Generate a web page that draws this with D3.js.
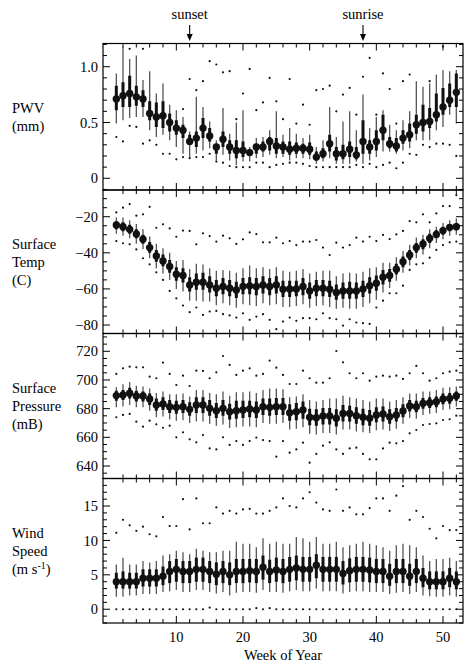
<!DOCTYPE html>
<html>
<head>
<meta charset="utf-8">
<script src="https://cdn.jsdelivr.net/npm/d3@7"></script>
<style>
  body { margin: 0; background: #fff; }
  svg { display: block; }
  svg text { font-family: "Liberation Serif", "DejaVu Serif", "Times New Roman", serif; }
</style>
</head>
<body>
<svg id="chart" width="464" height="664"></svg>
<script>
// Week numbers
const weeks = d3.range(1, 53);

// PWV (mm): thin range, thick box, median, extremes
const pwvMed = [0.71,0.74,0.76,0.73,0.71,0.58,0.55,0.56,0.50,0.45, 0.43,0.33,0.36,0.45,0.38,0.28,0.35,0.28,0.25,0.25, 0.23,0.28,0.28,0.33,0.29,0.28,0.26,0.27,0.27,0.26, 0.19,0.22,0.31,0.22,0.22,0.26,0.21,0.33,0.28,0.33, 0.43,0.31,0.29,0.36,0.39,0.48,0.50,0.51,0.57,0.64, 0.70,0.77];
const pwvQ3 = [0.83,0.86,0.92,0.83,0.79,0.69,0.68,0.69,0.58,0.52, 0.48,0.39,0.42,0.54,0.45,0.31,0.42,0.34,0.34,0.33, 0.26,0.31,0.33,0.37,0.36,0.33,0.33,0.32,0.31,0.32, 0.24,0.27,0.39,0.28,0.30,0.33,0.28,0.52,0.34,0.43, 0.57,0.37,0.36,0.43,0.49,0.57,0.66,0.63,0.76,0.81, 0.85,0.94];
const pwvQ1 = [0.61,0.64,0.64,0.65,0.64,0.52,0.46,0.45,0.42,0.39, 0.36,0.30,0.28,0.36,0.33,0.22,0.28,0.22,0.18,0.19, 0.20,0.22,0.24,0.25,0.22,0.22,0.21,0.22,0.22,0.21, 0.16,0.18,0.24,0.16,0.17,0.19,0.17,0.22,0.22,0.25, 0.34,0.27,0.24,0.31,0.33,0.40,0.42,0.45,0.51,0.57, 0.64,0.64];
const pwvHi = [0.94,1.18,1.07,1.10,0.88,0.96,0.76,0.85,0.66,0.61, 0.55,0.42,0.73,0.64,0.51,0.34,0.63,0.40,0.50,0.61, 0.28,0.36,0.37,0.43,0.60,0.39,0.45,0.40,0.36,0.39, 0.28,0.34,0.64,0.37,0.51,0.60,0.43,0.75,0.45,0.55, 0.61,0.48,0.43,0.52,0.60,0.87,0.82,0.85,0.93,0.97, 0.96,0.97];
const pwvLo = [0.49,0.52,0.54,0.55,0.55,0.43,0.37,0.39,0.34,0.28, 0.22,0.19,0.22,0.25,0.27,0.16,0.21,0.16,0.12,0.15, 0.15,0.18,0.19,0.21,0.18,0.19,0.16,0.18,0.18,0.17, 0.13,0.15,0.18,0.13,0.13,0.13,0.15,0.13,0.16,0.19, 0.24,0.24,0.22,0.25,0.27,0.34,0.34,0.34,0.43,0.46, 0.57,0.49];
const pwvMax = [1.30,1.30,1.16,1.30,1.16,1.30,1.30,1.30,1.30,1.30, 0.62,0.89,0.79,0.87,1.05,1.02,0.95,0.96,0.53,0.76, 0.98,0.61,0.68,0.90,0.69,0.53,0.89,0.49,0.66,0.48, 0.79,0.80,0.83,0.60,0.75,0.81,0.57,0.91,1.08,0.57, 0.94,0.80,0.49,0.87,0.93,1.30,1.30,0.87,1.30,1.18, 1.30,1.30];
const pwvMin = [0.37,0.33,0.47,0.46,0.31,0.34,0.30,0.22,0.22,0.17, 0.19,0.18,0.19,0.19,0.22,0.15,0.14,0.11,0.10,0.10, 0.10,0.14,0.14,0.10,0.12,0.13,0.14,0.14,0.13,0.11, 0.10,0.10,0.10,0.10,0.10,0.10,0.12,0.10,0.13,0.10, 0.12,0.14,0.09,0.14,0.22,0.21,0.30,0.28,0.31,0.31, 0.30,0.20];

// Surface temperature (C)
const tMed = [-24.6,-25.5,-27.0,-29.6,-32.5,-37.1,-41.8,-44.5,-47.6,-51.9, -52.6,-57.8,-56.3,-56.3,-57.8,-59.6,-58.7,-59.6,-60.6,-58.7, -58.3,-58.7,-57.8,-58.7,-57.8,-60.2,-60.0,-60.0,-58.7,-61.1, -59.6,-59.6,-60.2,-62.0,-61.1,-61.1,-61.1,-60.0,-58.2,-56.9, -53.5,-52.6,-49.1,-44.9,-41.2,-37.1,-35.1,-32.0,-29.8,-27.7, -25.9,-25.5];
const tQ3 = [-22.5,-23.0,-24.5,-27.0,-30.0,-34.0,-38.5,-41.0,-44.0,-48.0, -48.5,-53.5,-51.5,-51.0,-53.0,-55.0,-54.0,-55.0,-56.0,-54.0, -53.5,-54.0,-53.0,-54.0,-53.0,-55.5,-55.5,-55.5,-54.0,-56.5, -55.0,-55.0,-55.5,-57.5,-56.5,-56.0,-56.5,-55.5,-53.5,-52.5, -49.5,-49.0,-46.0,-42.0,-38.5,-34.5,-32.5,-29.5,-27.5,-25.5, -24.0,-23.5];
const tQ1 = [-27.0,-28.0,-29.5,-32.0,-35.0,-40.0,-45.0,-47.5,-51.0,-55.5, -56.5,-61.5,-60.5,-60.5,-62.0,-64.0,-63.0,-64.0,-65.0,-63.0, -63.0,-63.5,-62.5,-63.5,-62.5,-64.5,-64.5,-64.0,-63.5,-65.5, -64.0,-64.0,-64.5,-66.0,-65.5,-65.5,-65.5,-64.5,-62.5,-61.0, -57.5,-56.0,-52.0,-48.0,-44.0,-40.0,-38.0,-34.5,-32.0,-30.0, -28.0,-27.5];
const tHi = [-20.5,-20.5,-22.0,-24.0,-27.0,-31.0,-35.0,-37.5,-40.0,-44.5, -44.0,-49.0,-46.0,-46.5,-48.5,-50.0,-49.5,-50.0,-51.0,-48.5, -47.0,-48.5,-48.0,-49.0,-48.0,-50.0,-50.5,-50.0,-49.0,-51.5, -50.5,-50.0,-50.0,-53.0,-51.5,-51.0,-51.5,-50.5,-48.5,-48.0, -45.5,-45.5,-42.5,-39.0,-35.5,-31.5,-30.0,-27.0,-25.5,-23.5, -22.0,-21.0];
const tLo = [-29.5,-30.5,-32.0,-35.0,-38.0,-43.0,-48.5,-51.5,-55.0,-60.0, -61.5,-66.5,-66.5,-67.0,-67.0,-69.0,-68.0,-69.0,-70.5,-68.5, -69.0,-69.5,-68.0,-69.0,-68.5,-70.0,-70.0,-69.5,-68.5,-70.5, -69.5,-69.0,-70.0,-71.0,-70.5,-71.0,-71.0,-70.0,-68.0,-66.0, -62.0,-59.5,-55.5,-51.0,-47.0,-43.0,-41.0,-37.5,-34.5,-32.5, -30.5,-30.0];
const tMax = [-17.6,-15.0,-13.0,-19.4,-18.7,-14.5,-26.1,-24.2,-26.5,-31.1, -27.7,-27.9,-35.3,-29.2,-30.7,-33.8,-30.5,-32.0,-35.1,-32.5, -28.7,-29.6,-34.2,-34.2,-31.6,-34.7,-33.5,-35.7,-33.8,-33.8, -32.9,-37.1,-41.2,-34.4,-37.1,-35.7,-31.6,-33.8,-31.1,-33.5, -30.1,-32.4,-29.8,-27.9,-22.4,-23.1,-18.7,-23.1,-18.2,-14.1, -14.1,-8.0];
const tMin = [-33.5,-34.7,-35.3,-38.1,-43.0,-46.4,-50.8,-55.0,-61.1,-65.2, -69.2,-72.9,-70.3,-74.4,-72.5,-72.2,-74.0,-74.7,-75.9,-73.5, -77.1,-75.3,-74.0,-77.1,-82.3,-78.1,-75.9,-77.7,-76.2,-76.2, -76.8,-73.5,-76.2,-76.8,-80.3,-76.8,-78.6,-79.0,-79.4,-70.3, -66.5,-62.4,-62.4,-58.2,-49.5,-46.4,-45.8,-42.7,-38.4,-35.7, -34.2,-33.8];

// Surface pressure (mB)
const pMed = [689.1,689.5,690.7,688.8,688.8,686.7,682.6,683.3,681.4,680.9, 681.4,679.5,682.6,682.6,680.2,678.6,680.2,677.9,678.6,679.1, 679.8,679.1,681.4,680.9,681.4,681.4,677.2,677.9,679.1,674.0, 673.7,674.9,674.9,673.3,676.7,676.7,675.1,674.0,673.3,675.6, 676.3,674.4,675.6,678.4,681.9,681.4,683.7,684.2,684.9,686.7, 687.2,688.8];
const pQ3 = [692.5,693.0,694.5,692.5,692.0,690.5,687.0,688.0,686.0,685.5, 686.0,684.5,688.0,688.0,686.0,684.0,686.0,683.5,685.5,685.5, 685.5,685.0,687.0,687.0,687.5,687.5,683.0,684.0,685.0,680.0, 679.5,680.5,680.5,679.5,682.5,682.0,681.0,680.0,679.0,681.0, 681.5,679.5,680.5,683.0,686.0,685.5,687.5,688.0,688.5,690.5, 691.0,692.0];
const pQ1 = [685.5,686.0,687.0,685.0,685.0,682.5,678.5,679.0,677.0,676.5, 677.0,675.0,677.0,677.0,675.0,673.5,675.0,672.5,673.0,673.5, 674.0,673.5,675.5,675.0,675.5,675.5,671.5,672.0,673.0,668.5, 668.0,669.0,669.0,667.5,671.0,671.0,669.5,668.5,668.0,670.5, 671.0,669.5,671.0,674.0,678.0,677.5,680.0,680.5,681.0,683.0, 683.5,685.5];
const pHi = [695.0,697.0,698.5,696.0,695.5,694.0,691.0,692.0,690.0,690.0, 690.5,688.5,693.0,693.0,691.0,690.0,692.0,689.0,691.5,691.5, 692.0,691.0,693.0,694.0,694.0,693.5,688.0,688.5,690.0,686.0, 685.0,686.0,687.0,687.0,689.0,688.0,687.0,686.0,685.0,687.0, 687.0,685.0,686.0,688.0,690.5,690.5,692.0,692.0,693.0,694.5, 695.0,695.5];
const pLo = [681.0,681.5,682.5,681.0,681.0,678.5,674.0,674.5,672.5,671.5, 672.0,670.0,671.0,671.0,669.5,668.0,669.0,666.5,667.0,667.5, 667.5,667.0,670.0,669.5,669.5,670.0,665.5,666.0,667.0,662.5, 662.0,663.0,663.0,662.0,665.5,665.5,664.0,663.5,663.0,665.0, 665.5,664.5,666.0,669.5,673.5,673.0,675.5,676.5,677.0,679.0, 679.5,681.5];
const pMax = [704.2,708.1,709.3,708.8,708.8,702.3,701.2,712.1,704.2,696.5, 703.0,695.8,706.5,706.3,701.2,705.3,716.7,710.5,703.5,706.5, 708.1,703.0,704.2,713.5,708.6,703.5,697.2,697.2,706.5,701.2, 698.1,698.1,701.2,720.2,712.3,704.7,701.2,704.7,699.5,702.3, 703.0,702.3,703.0,700.7,704.7,709.8,704.7,699.5,701.2,704.7, 705.8,706.5];
const pMin = [674.0,675.6,676.3,670.9,667.4,671.6,669.1,666.7,668.1,660.0, 663.5,658.6,656.5,661.6,652.3,651.6,660.0,654.7,657.4,654.7, 657.4,659.8,658.1,657.4,646.5,657.4,649.3,651.6,656.3,642.3, 648.4,654.2,656.5,651.6,648.4,652.3,652.8,648.4,644.7,644.7, 652.3,656.3,655.8,657.4,662.8,665.1,668.6,669.3,669.8,672.1, 672.6,675.1];

// Wind speed (m/s)
const wMed = [4.0,4.0,4.0,4.0,4.5,4.5,4.5,4.8,5.5,5.8, 5.5,5.5,5.8,5.8,5.5,5.1,5.5,5.0,5.5,5.5, 5.6,5.5,6.1,5.5,5.7,5.5,5.8,6.0,5.8,5.8, 6.4,5.8,5.8,5.8,5.2,5.6,5.8,5.8,5.7,5.5, 5.5,4.8,5.5,5.5,4.8,5.5,4.5,4.0,4.0,4.0, 4.5,4.0];
const wQ3 = [5.3,5.5,5.3,5.3,5.8,5.8,5.8,6.2,7.0,7.3, 7.0,7.0,7.5,7.5,7.0,6.8,7.0,6.8,7.3,7.3, 7.3,7.3,7.8,7.2,7.5,7.3,7.6,7.8,7.6,7.6, 8.0,7.6,7.6,7.6,7.0,7.4,7.6,7.6,7.5,7.3, 7.3,6.6,7.3,7.3,6.6,7.3,6.0,5.5,5.5,5.5, 6.0,5.5];
const wQ1 = [3.0,3.0,3.0,3.0,3.3,3.3,3.3,3.5,3.8,4.0, 3.8,3.8,4.0,4.0,3.8,3.5,3.8,3.5,3.8,3.8, 3.9,3.8,4.3,3.8,4.0,3.8,4.0,4.2,4.0,4.0, 4.5,4.0,4.0,4.0,3.6,3.9,4.0,4.0,3.9,3.8, 3.8,3.4,3.8,3.8,3.4,3.8,3.2,2.9,2.9,2.9, 3.2,2.9];
const wHi = [6.5,7.5,6.5,6.5,7.0,6.8,7.0,7.8,8.0,8.5, 8.3,8.0,8.8,8.5,8.3,8.3,8.5,8.5,9.8,9.5, 9.5,9.0,10.3,9.5,9.8,9.5,9.5,10.5,10.3,9.8, 10.5,9.5,9.5,9.8,9.0,9.3,9.5,9.8,9.5,9.3, 9.0,8.5,9.3,9.5,9.3,9.0,7.8,7.0,7.3,7.3, 7.5,7.0];
const wLo = [1.8,1.8,2.0,2.0,2.2,2.2,2.2,2.5,2.6,2.8, 2.5,2.5,2.8,2.8,2.5,2.3,2.5,2.0,2.4,2.5, 2.5,2.4,2.8,2.5,2.5,2.4,2.6,2.8,2.6,2.6, 3.0,2.6,2.6,2.6,2.3,2.5,2.6,2.6,2.5,2.5, 2.5,2.2,2.4,2.5,2.2,2.5,2.0,1.9,1.8,1.8, 2.0,1.8];
const wMax = [11.1,13.0,12.2,11.4,12.0,10.9,10.6,13.4,12.1,12.1, 16.0,11.6,16.1,12.5,12.5,14.8,13.9,14.3,13.9,14.5, 14.6,13.9,13.9,14.3,14.8,16.1,15.0,14.8,16.1,17.0, 15.5,14.5,14.3,17.4,14.3,14.8,13.8,13.8,14.7,16.1, 16.1,14.3,16.5,17.9,13.0,14.3,13.4,11.7,10.3,12.1, 11.5,11.5];
const wMin = [0,0,0,0,0,0,0,0,0,0, 0,0,0,0,0.24,0,0,0,0,0, 0,0.15,0,0.15,0,0,0,0,0,0, 0,0,0,0,0,0,0,0,0,0, 0,0,0,0,0,0,0,0,0,0, 0,0];

// Axis tick labels
const xTickLabels = [10, 20, 30, 40, 50];
const events = [{ name: "sunset", week: 12 }, { name: "sunrise", week: 38 }];

const minus = s => String(s).replace("-", "\u2212");
const FONT = "'Liberation Serif', 'DejaVu Serif', 'Times New Roman', serif";

const panels = [
  { label: ["PWV", "(mm)"], domain: [-0.105, 1.208], major: [0, 0.5, 1.0], minor: 0.1,
    fmt: d => d === 0 ? "0" : d.toFixed(1),
    med: pwvMed, q1: pwvQ1, q3: pwvQ3, lo: pwvLo, hi: pwvHi, min: pwvMin, max: pwvMax },
  { label: ["Surface", "Temp", "(C)"], domain: [-84.7, -5.2], major: [-80, -60, -40, -20], minor: 5,
    fmt: d => minus(d),
    med: tMed, q1: tQ1, q3: tQ3, lo: tLo, hi: tHi, min: tMin, max: tMax },
  { label: ["Surface", "Pressure", "(mB)"], domain: [631.3, 732.4], major: [640, 660, 680, 700, 720], minor: 5,
    fmt: d => String(d),
    med: pMed, q1: pQ1, q3: pQ3, lo: pLo, hi: pHi, min: pMin, max: pMax },
  { label: ["Wind", "Speed", "(m s-1)"], domain: [-2.0, 19.0], major: [0, 5, 10, 15], minor: 1,
    fmt: d => String(d),
    med: wMed, q1: wQ1, q3: wQ3, lo: wLo, hi: wHi, min: wMin, max: wMax }
];

const svg = d3.select("#chart").attr("font-family", FONT);
const left = 103, right = 463;
const bounds = [43.5, 190, 333.5, 478.5, 623];

const x = d3.scaleLinear().domain([-1, 53]).range([left, right]);

panels.forEach((p, i) => {
  const top = bounds[i], bottom = bounds[i + 1];
  const y = d3.scaleLinear().domain(p.domain).range([bottom, top]);
  const g = svg.append("g");

  g.append("clipPath").attr("id", "clip" + i)
    .append("rect").attr("x", left).attr("y", top)
    .attr("width", right - left).attr("height", bottom - top);

  const marks = g.append("g").attr("clip-path", "url(#clip" + i + ")");
  const rows = weeks.map((w, k) => ({ w, med: p.med[k], q1: p.q1[k], q3: p.q3[k],
    lo: p.lo[k], hi: p.hi[k], min: p.min[k], max: p.max[k] }));

  // thin whiskers
  marks.selectAll(".thin").data(rows).enter().append("line")
    .attr("x1", d => x(d.w)).attr("x2", d => x(d.w))
    .attr("y1", d => y(d.lo)).attr("y2", d => y(d.hi))
    .attr("stroke", "#555").attr("stroke-width", 1.3);

  // thick interquartile bars
  marks.selectAll(".thick").data(rows).enter().append("line")
    .attr("x1", d => x(d.w)).attr("x2", d => x(d.w))
    .attr("y1", d => y(d.q1)).attr("y2", d => y(d.q3))
    .attr("stroke", "#111").attr("stroke-width", 3);

  // medians
  marks.selectAll(".med").data(rows).enter().append("circle")
    .attr("cx", d => x(d.w)).attr("cy", d => y(d.med)).attr("r", 3.7)
    .attr("fill", "#111");

  // extremes
  ["min", "max"].forEach(k => {
    marks.selectAll(".ext-" + k).data(rows).enter().append("circle")
      .attr("cx", d => x(d.w)).attr("cy", d => y(d[k])).attr("r", 1.1)
      .attr("fill", "#111");
  });

  // frame
  g.append("rect").attr("x", left).attr("y", top)
    .attr("width", right - left).attr("height", bottom - top)
    .attr("fill", "none").attr("stroke", "#000").attr("stroke-width", 1.2);

  // x ticks, inward on top and bottom
  const xMinor = d3.range(0, 53, 2).filter(w => w % 10 !== 0);
  const xt = g.append("g").attr("stroke", "#000").attr("stroke-width", 1);
  xMinor.forEach(w => {
    xt.append("line").attr("x1", x(w)).attr("x2", x(w)).attr("y1", top).attr("y2", top + 4);
    xt.append("line").attr("x1", x(w)).attr("x2", x(w)).attr("y1", bottom).attr("y2", bottom - 4);
  });
  xTickLabels.forEach(w => {
    xt.append("line").attr("x1", x(w)).attr("x2", x(w)).attr("y1", top).attr("y2", top + 7);
    xt.append("line").attr("x1", x(w)).attr("x2", x(w)).attr("y1", bottom).attr("y2", bottom - 7);
  });

  // y ticks, inward on left and right
  const n0 = Math.ceil(p.domain[0] / p.minor - 1e-6), n1 = Math.floor(p.domain[1] / p.minor + 1e-6);
  const yMinor = d3.range(n0, n1 + 1).map(n => +(n * p.minor).toFixed(4))
    .filter(v => !p.major.some(m => Math.abs(m - v) < 1e-6));
  const yt = g.append("g").attr("stroke", "#000").attr("stroke-width", 1);
  yMinor.forEach(v => {
    yt.append("line").attr("x1", left).attr("x2", left + 4).attr("y1", y(v)).attr("y2", y(v));
    yt.append("line").attr("x1", right).attr("x2", right - 4).attr("y1", y(v)).attr("y2", y(v));
  });
  p.major.forEach(v => {
    yt.append("line").attr("x1", left).attr("x2", left + 7).attr("y1", y(v)).attr("y2", y(v));
    yt.append("line").attr("x1", right).attr("x2", right - 7).attr("y1", y(v)).attr("y2", y(v));
  });

  // y tick labels
  g.selectAll(".ylab").data(p.major).enter().append("text")
    .attr("x", left - 5).attr("y", d => y(d)).attr("dy", "0.35em")
    .attr("text-anchor", "end").attr("font-size", 14.5).text(p.fmt);

  // panel label, stacked lines
  const mid = (top + bottom) / 2;
  p.label.forEach((s, j) => {
    const ty = mid - (p.label.length - 1) * 9 + j * 18 + 5;
    const t = g.append("text").attr("x", 12).attr("y", ty).attr("font-size", 14.5);
    if (s === "(m s-1)") {
      t.append("tspan").text("(m s");
      t.append("tspan").attr("dy", -5).attr("font-size", 10).text("-1");
      t.append("tspan").attr("dy", 5).text(")");
    } else {
      t.text(s);
    }
  });
});

// bottom x labels
svg.selectAll(".xlab").data(xTickLabels).enter().append("text")
  .attr("x", d => x(d)).attr("y", 642).attr("text-anchor", "middle")
  .attr("font-size", 14.5).text(d => d);

svg.append("text").attr("x", (left + right) / 2).attr("y", 660)
  .attr("text-anchor", "middle").attr("font-size", 14.5).text("Week of Year");

// sunset / sunrise arrows
events.forEach(e => {
  const ex = x(e.week);
  svg.append("text").attr("x", ex).attr("y", 19).attr("text-anchor", "middle")
    .attr("font-size", 14.5).text(e.name);
  svg.append("line").attr("x1", ex).attr("x2", ex).attr("y1", 25).attr("y2", 36)
    .attr("stroke", "#000").attr("stroke-width", 1.1);
  svg.append("path")
    .attr("d", `M${ex - 3},${34} L${ex + 3},${34} L${ex},${41} Z`)
    .attr("fill", "#000");
});
</script>
</body>
</html>
